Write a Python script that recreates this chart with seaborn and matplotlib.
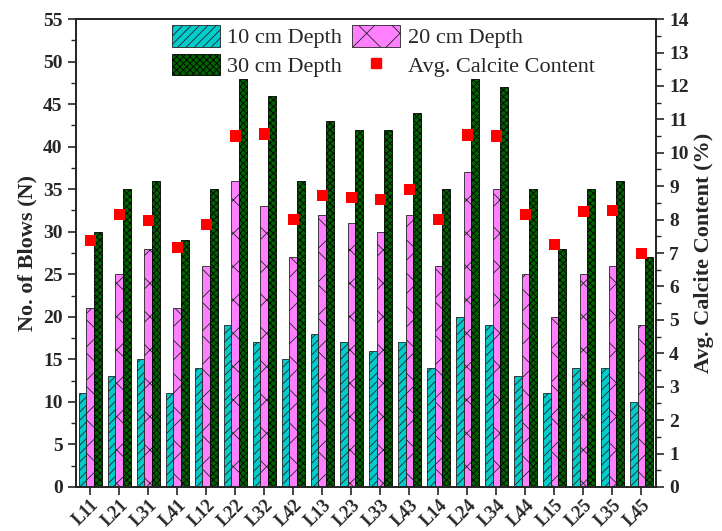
import matplotlib
matplotlib.use("Agg")
import matplotlib.pyplot as plt
import seaborn as sns
import pandas as pd
import numpy as np
from matplotlib.patches import Patch
from matplotlib.lines import Line2D
from matplotlib.ticker import MultipleLocator

locations = ["L11", "L21", "L31", "L41", "L12", "L22", "L32", "L42", "L13", "L23",
             "L33", "L43", "L14", "L24", "L34", "L44", "L15", "L25", "L35", "L45"]
depth_10 = [11, 13, 15, 11, 14, 19, 17, 15, 18, 17, 16, 17, 14, 20, 19, 13, 11, 14, 14, 10]
depth_20 = [21, 25, 28, 21, 26, 36, 33, 27, 32, 31, 30, 32, 26, 37, 35, 25, 20, 25, 26, 19]
depth_30 = [30, 35, 36, 29, 35, 48, 46, 36, 43, 42, 42, 44, 35, 48, 47, 35, 28, 35, 36, 27]
calcite = [7.37, 8.15, 7.97, 7.16, 7.85, 10.51, 10.57, 8.0, 8.72, 8.66,
           8.6, 8.9, 8.0, 10.54, 10.51, 8.15, 7.25, 8.24, 8.27, 6.98]
series_names = ["10 cm Depth", "20 cm Depth", "30 cm Depth"]

sns.set_style("ticks")
plt.rcParams['font.family'] = ['Liberation Serif', 'DejaVu Serif']
plt.rcParams['font.weight'] = 'bold'
plt.rcParams['hatch.linewidth'] = 0.6

df = pd.DataFrame({
    "Location": locations * 3,
    "Blows": depth_10 + depth_20 + depth_30,
    "Depth": [series_names[0]] * 20 + [series_names[1]] * 20 + [series_names[2]] * 20,
})
cdf = pd.DataFrame({"Location": locations, "Calcite": calcite})

colors = ["#00CCCC", "#FF80FF", "#006400"]
hatches = ["////", "x", "xxxxx"]
edges = ["#222222", "#222222", "#000000"]

fig = plt.figure(figsize=(7.22, 5.31), dpi=100)
ax = fig.add_axes([0.105, 0.083, 0.8035, 0.881])
sns.barplot(data=df, x="Location", y="Blows", hue="Depth", hue_order=series_names,
            palette=colors, width=0.8, ax=ax, legend=False, saturation=1,
            edgecolor="#222222", linewidth=0.6)
for i, cont in enumerate(ax.containers):
    for p in cont.patches:
        p.set_hatch(hatches[i])
        p.set_edgecolor(edges[i])

ax.set_xlim(-0.5, 19.5)
ax.set_ylim(0, 55)
ax.yaxis.set_major_locator(MultipleLocator(5))
ax.yaxis.set_minor_locator(MultipleLocator(2.5))
ax.set_xlabel("")
ax.set_ylabel("No. of Blows (N)", fontsize=16, fontweight='bold')
ax.tick_params(axis='y', which='major', direction='out', length=6, width=1.2, labelsize=14)
ax.tick_params(axis='y', which='minor', direction='out', length=3.5, width=1.0)
ax.tick_params(axis='x', direction='out', length=6, width=1.2, labelsize=13, pad=1)
ax.set_xticks(range(len(locations)))
ax.set_xticklabels(locations, rotation=45, ha='right', rotation_mode='anchor', fontweight='bold')
for lbl in ax.get_yticklabels():
    lbl.set_fontweight('bold')
for s in ax.spines.values():
    s.set_linewidth(1.3)
    s.set_visible(True)

ax2 = ax.twinx()
sns.scatterplot(data=cdf, x="Location", y="Calcite", marker="s", color="#FF0000",
                s=70, edgecolor="none", ax=ax2, legend=False, zorder=5)
ax2.set_ylim(0, 14)
ax2.set_xlim(-0.5, 19.5)
ax2.yaxis.set_major_locator(MultipleLocator(1))
ax2.yaxis.set_minor_locator(MultipleLocator(0.5))
ax2.set_ylabel("Avg. Calcite Content (%)", fontsize=16, fontweight='bold')
ax2.tick_params(axis='y', which='major', direction='out', length=6, width=1.2, labelsize=14)
ax2.tick_params(axis='y', which='minor', direction='out', length=3.5, width=1.0)
for lbl in ax2.get_yticklabels():
    lbl.set_fontweight('bold')
for s in ax2.spines.values():
    s.set_linewidth(1.3)

handles = [
    Patch(facecolor=colors[0], edgecolor=edges[0], hatch=hatches[0], linewidth=0.6),
    Patch(facecolor=colors[2], edgecolor=edges[2], hatch=hatches[2], linewidth=0.6),
    Patch(facecolor=colors[1], edgecolor=edges[1], hatch=hatches[1], linewidth=0.6),
    Line2D([], [], marker='s', color='#FF0000', linestyle='none', markersize=7),
]
labels = [series_names[0], series_names[2], series_names[1], "Avg. Calcite Content"]
leg = ax2.legend(handles, labels, ncol=2, loc='upper center', bbox_to_anchor=(0.53, 1.006),
                 frameon=False, prop={'family': 'Liberation Serif', 'size': 16, 'weight': 'normal'},
                 handlelength=2.15, handleheight=1.1, columnspacing=0.45, handletextpad=0.35,
                 labelspacing=0.25, borderaxespad=0.0)

fig.savefig("out.png", dpi=100)
